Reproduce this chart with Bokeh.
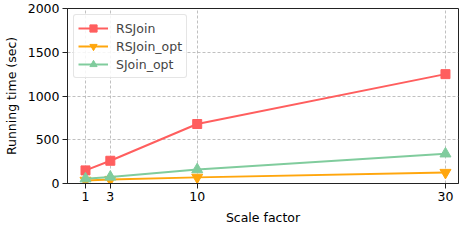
from bokeh.plotting import figure
from bokeh.models import FixedTicker, Legend, LegendItem, Range1d
from bokeh.embed import file_html
from bokeh.resources import INLINE

scale = [1, 3, 10, 30]
rsjoin = [150, 260, 680, 1250]
rsjoin_opt = [35, 45, 70, 125]
sjoin_opt = [55, 75, 160, 340]
x_ticks = [1, 3, 10, 30]
y_ticks = [0, 500, 1000, 1500, 2000]

FONT = "DejaVu Sans"
FS = "12.5px"
p = figure(width=459, height=228, output_backend="svg", toolbar_location=None,
           x_range=Range1d(-0.45, 31.05), y_range=Range1d(0, 2000),
           min_border_left=65, min_border_right=1, min_border_top=8, min_border_bottom=45)
p.outline_line_color = "#222222"
p.outline_line_width = 1
p.background_fill_color = "white"
p.border_fill_color = "white"

for ax in (p.xaxis, p.yaxis):
    ax.major_label_text_font = FONT
    ax.major_label_text_font_size = FS
    ax.major_label_text_color = "black"
    ax.axis_label_text_font = FONT
    ax.axis_label_text_font_size = FS
    ax.axis_label_text_font_style = "normal"
    ax.axis_label_text_color = "black"
    ax.axis_line_color = "#222222"
    ax.major_tick_line_color = "#222222"
    ax.major_tick_out = 5
    ax.major_tick_in = 0
    ax.minor_tick_line_color = None
p.xaxis.ticker = FixedTicker(ticks=x_ticks)
p.yaxis.ticker = FixedTicker(ticks=y_ticks)
p.xaxis.axis_label = "Scale factor"
p.yaxis.axis_label = "Running time (sec)"
p.xaxis.axis_label_standoff = 6
p.yaxis.axis_label_standoff = 6
p.xaxis.major_label_standoff = 3
p.yaxis.major_label_standoff = 3

for g in (p.xgrid, p.ygrid):
    g.grid_line_color = "#b0b0b0"
    g.grid_line_dash = "3 2"
    g.grid_line_width = 0.8
p.xgrid.ticker = FixedTicker(ticks=x_ticks)
p.ygrid.ticker = FixedTicker(ticks=y_ticks)

red, orange, green = "#ff5e5e", "#ffa60d", "#80cc9d"
l1 = p.line(scale, rsjoin, line_color=red, line_width=2)
m1 = p.scatter(scale, rsjoin, marker="square", size=9, fill_color=red, line_color=red)
l2 = p.line(scale, rsjoin_opt, line_color=orange, line_width=2)
m2 = p.scatter(scale, rsjoin_opt, marker="inverted_triangle", size=11, fill_color=orange, line_color=orange)
l3 = p.line(scale, sjoin_opt, line_color=green, line_width=2)
m3 = p.scatter(scale, sjoin_opt, marker="triangle", size=11, fill_color=green, line_color=green)

legend = Legend(items=[
    LegendItem(label="RSJoin", renderers=[l1, m1]),
    LegendItem(label="RSJoin_opt", renderers=[l2, m2]),
    LegendItem(label="SJoin_opt", renderers=[l3, m3]),
], location="top_left")
legend.margin = 6
legend.padding = 4
legend.spacing = 0
legend.glyph_width = 30
legend.glyph_height = 18
legend.label_height = 18
legend.label_standoff = 8
legend.label_text_font = FONT
legend.label_text_font_size = FS
legend.border_line_color = "#cccccc"
legend.border_line_width = 1
legend.border_radius = 3
legend.background_fill_alpha = 0.85
p.add_layout(legend)

open("out.html", "w").write(file_html(p, INLINE))
